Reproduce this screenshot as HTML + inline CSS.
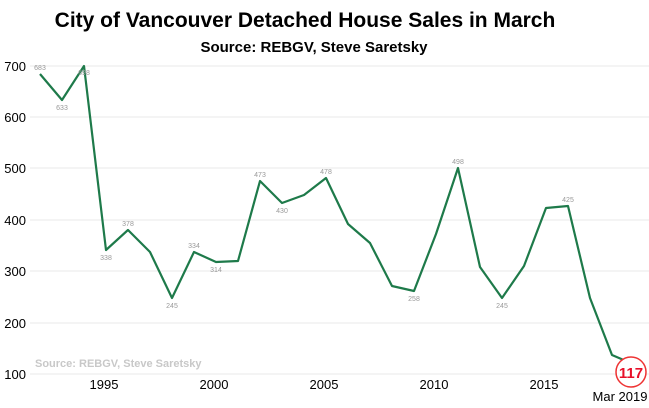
<!DOCTYPE html>
<html><head><style>body{margin:0;background:#fff}svg{display:block}</style></head><body>
<svg width="649" height="408" xmlns="http://www.w3.org/2000/svg" font-family="Liberation Sans, sans-serif">
<text x="305" y="27" text-anchor="middle" font-size="21" font-weight="bold" fill="#000">City of Vancouver Detached House Sales in March</text>
<text x="314" y="52" text-anchor="middle" font-size="15" font-weight="bold" fill="#000">Source: REBGV, Steve Saretsky</text>
<g stroke="#e8e8e8" stroke-width="1">
<line x1="30" x2="649" y1="66" y2="66"/><line x1="30" x2="649" y1="117" y2="117"/><line x1="30" x2="649" y1="168" y2="168"/><line x1="30" x2="649" y1="220" y2="220"/><line x1="30" x2="649" y1="271" y2="271"/><line x1="30" x2="649" y1="323" y2="323"/><line x1="30" x2="649" y1="374" y2="374"/>
</g>
<g font-size="13" fill="#000" text-anchor="end">
<text x="26" y="71">700</text><text x="26" y="122">600</text><text x="26" y="173">500</text><text x="26" y="225">400</text><text x="26" y="276">300</text><text x="26" y="328">200</text><text x="26" y="379">100</text>
</g>
<g font-size="13" fill="#000" text-anchor="middle">
<text x="104" y="389">1995</text><text x="214" y="389">2000</text><text x="324" y="389">2005</text><text x="434" y="389">2010</text><text x="544" y="389">2015</text><text x="620" y="401">Mar 2019</text>
</g>
<polyline fill="none" stroke="#1e7a4a" stroke-width="2.2" stroke-linejoin="round" points="40,74 62,100 84,66 106,250 128,230 150,252 172,298 194,252 216,262 238,261 260,181 282,203 304,195 326,178 348,224 370,243 392,286 414,291 436,234 458,168 480,267 502,298 524,266 546,208 568,206 590,298 612,355 633,364"/>
<g font-size="7" fill="#999" text-anchor="middle">
<text x="40" y="70">683</text><text x="62" y="110">633</text><text x="84" y="75">698</text><text x="106" y="260">338</text><text x="128" y="226">378</text><text x="172" y="308">245</text><text x="194" y="248">334</text><text x="216" y="272">314</text><text x="260" y="177">473</text><text x="282" y="213">430</text><text x="326" y="174">478</text><text x="414" y="301">258</text><text x="458" y="164">498</text><text x="502" y="308">245</text><text x="568" y="202">425</text>
</g>
<text x="35" y="367" font-size="11" font-weight="bold" fill="#c8c8c8">Source: REBGV, Steve Saretsky</text>
<circle cx="631" cy="372" r="15" fill="#fff" stroke="#e33" stroke-width="1.5"/>
<text x="631" y="378" text-anchor="middle" font-size="15" font-weight="bold" fill="#e8102a">117</text>
</svg>
</body></html>
